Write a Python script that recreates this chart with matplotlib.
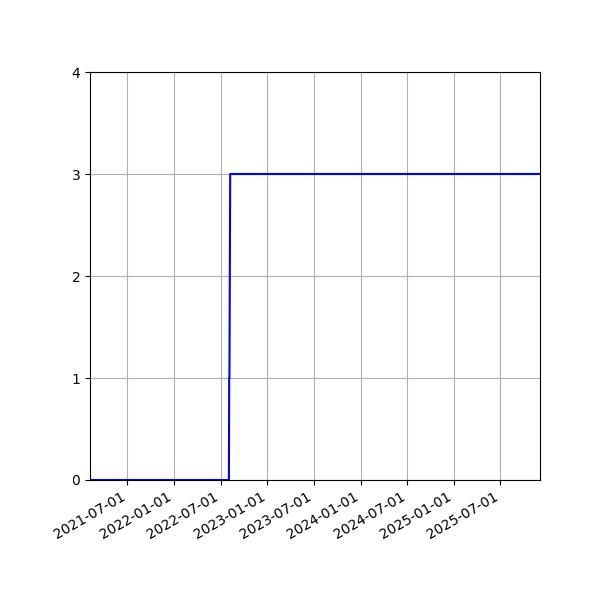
import matplotlib
matplotlib.use('Agg')
import matplotlib.pyplot as plt
import matplotlib.dates as mdates
import numpy as np
import pandas as pd

dates = ['2021-02-05', '2022-08-03', '2022-08-04', '2022-08-05', '2022-08-08', '2025-12-03']
values = [0, 0, 1, 1, 3, 3]

x = pd.to_datetime(dates)

fig, ax = plt.subplots(figsize=(6, 6), dpi=100)
ax.plot(x, values, color='blue')
ax.set_xlim(x[0], x[-1])
ax.set_ylim(0, 4)
ax.set_yticks([0, 1, 2, 3, 4])
ax.xaxis.set_major_locator(mdates.MonthLocator(bymonth=[1, 7]))
ax.xaxis.set_major_formatter(mdates.DateFormatter('%Y-%m-%d'))
ax.grid(True)
fig.autofmt_xdate()
fig.subplots_adjust(left=0.15, right=0.9, top=0.88, bottom=0.2)
fig.savefig('out.png')
